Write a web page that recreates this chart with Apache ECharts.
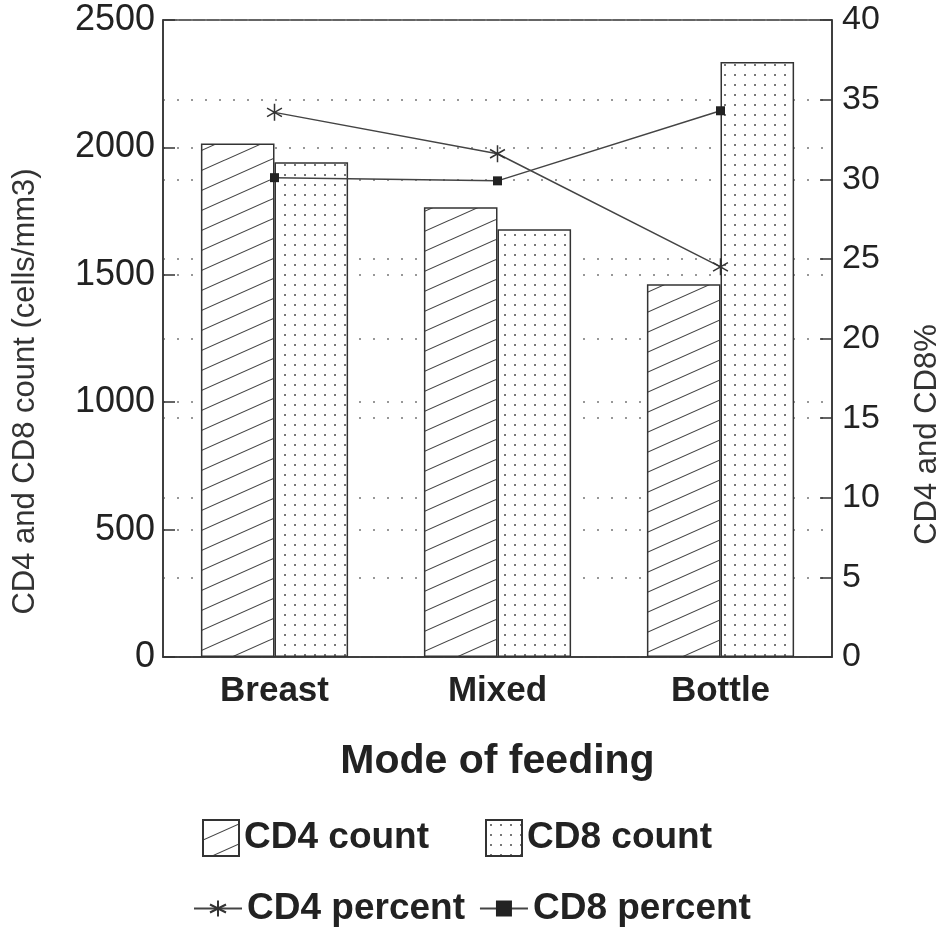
<!DOCTYPE html>
<html>
<head>
<meta charset="utf-8">
<script src="https://cdn.jsdelivr.net/npm/echarts@6/dist/echarts.min.js"></script>
<style>
  html, body { margin: 0; padding: 0; background: #fff; overflow: hidden; }
  #chart { width: 941px; height: 929px; }
</style>
</head>
<body>
<div id="chart"></div>
<script>
const categories = ["Breast", "Mixed", "Bottle"];
const cd4Count = [2015, 1765, 1463];
const cd8Count = [1942, 1679, 2335];
const cd4Percent = [34.2, 31.6, 24.5];
const cd8Percent = [30.1, 29.9, 34.3];

// hatch fill for CD4 count bars
function hatchPattern() {
  const c = document.createElement("canvas");
  c.width = 45;
  c.height = 20;
  const ctx = c.getContext("2d");
  ctx.fillStyle = "#fff";
  ctx.fillRect(0, 0, 45, 20);
  ctx.strokeStyle = "#444";
  ctx.lineWidth = 1.1;
  ctx.beginPath();
  ctx.moveTo(-45, 40); ctx.lineTo(90, -20);
  ctx.moveTo(-45, 20); ctx.lineTo(90, -40);
  ctx.moveTo(-45, 60); ctx.lineTo(90, 0);
  ctx.stroke();
  return c;
}

// dot fill for CD8 count bars
function dotPattern() {
  const c = document.createElement("canvas");
  c.width = 10;
  c.height = 10;
  const ctx = c.getContext("2d");
  ctx.fillStyle = "#fff";
  ctx.fillRect(0, 0, 10, 10);
  ctx.fillStyle = "#777";
  ctx.fillRect(4, 4, 2, 2);
  return c;
}

const asterisk = "path://M8 0 L8 16 M1 4 L15 12 M1 12 L15 4";
const fontFamily = "'Liberation Sans', Arial, Helvetica, sans-serif";
const dotted = { type: [2, 12], color: "#777", width: 1.5 };

let myChart = echarts.init(document.getElementById("chart"));
myChart.setOption({
  animation: false,
  backgroundColor: "#fff",
  textStyle: { fontFamily: fontFamily, color: "#222" },
  grid: {
    left: 163,
    right: 109,
    top: 20,
    bottom: 272,
    outerBoundsMode: "none",
    show: true,
    borderColor: "#333",
    borderWidth: 1.5,
  },
  legend: [
    {
      left: 197,
      top: 814,
      itemWidth: 36,
      itemHeight: 36,
      itemGap: 56,
      icon: "rect",
      textStyle: { fontSize: 37, fontWeight: "bold", color: "#222" },
      data: ["CD4 count", "CD8 count"],
    },
    {
      left: 188,
      top: 885,
      itemWidth: 48,
      itemHeight: 20,
      itemGap: 14,
      textStyle: { fontSize: 37, fontWeight: "bold", color: "#222" },
      data: ["CD4 percent", "CD8 percent"],
    },
  ],
  xAxis: {
    type: "category",
    data: categories,
    name: "Mode of feeding",
    nameLocation: "middle",
    nameGap: 84,
    nameTextStyle: { fontSize: 41, fontWeight: "bold", color: "#222" },
    axisLine: { lineStyle: { color: "#333", width: 1.5 } },
    axisTick: { show: false },
    axisLabel: { fontSize: 35, fontWeight: "bold", color: "#222", margin: 17 },
  },
  yAxis: [
    {
      type: "value",
      min: 0,
      max: 2500,
      interval: 500,
      name: "CD4 and CD8 count (cells/mm3)",
      nameLocation: "middle",
      nameGap: 122,
      nameRotate: 90,
      nameTextStyle: { fontSize: 31, color: "#333", padding: [0, 106, 0, 0] },
      axisLine: { show: true, lineStyle: { color: "#333", width: 1.5 } },
      axisTick: { show: true, inside: true, length: 12, lineStyle: { color: "#333", width: 1.5 } },
      axisLabel: { fontSize: 36, color: "#222", margin: 8, formatter: (v) => String(v) },
      splitLine: { show: true, lineStyle: dotted },
    },
    {
      type: "value",
      min: 0,
      max: 40,
      interval: 5,
      position: "right",
      name: "CD4 and CD8%",
      nameLocation: "middle",
      nameGap: 80,
      nameRotate: 90,
      nameTextStyle: { fontSize: 31, color: "#333", padding: [0, 192, 0, 0] },
      axisLine: { show: true, lineStyle: { color: "#333", width: 1.5 } },
      axisTick: { show: true, inside: true, length: 12, lineStyle: { color: "#333", width: 1.5 } },
      axisLabel: { fontSize: 34, color: "#222", margin: 10 },
      splitLine: { show: true, lineStyle: dotted },
    },
  ],
  series: [
    {
      name: "CD4 count",
      type: "bar",
      data: cd4Count,
      barGap: "0%",
      barCategoryGap: "34%",
      itemStyle: {
        color: { image: hatchPattern(), repeat: "repeat" },
        borderColor: "#333",
        borderWidth: 1.5,
      },
    },
    {
      name: "CD8 count",
      type: "bar",
      data: cd8Count,
      itemStyle: {
        color: { image: dotPattern(), repeat: "repeat" },
        borderColor: "#333",
        borderWidth: 1.5,
      },
    },
    {
      name: "CD4 percent",
      type: "line",
      yAxisIndex: 1,
      data: cd4Percent,
      symbol: asterisk,
      symbolSize: 17,
      symbolKeepAspect: true,
      lineStyle: { color: "#444", width: 1.5 },
      itemStyle: { color: "#fff", borderColor: "#333", borderWidth: 1.5 },
      z: 5,
    },
    {
      name: "CD8 percent",
      type: "line",
      yAxisIndex: 1,
      data: cd8Percent,
      symbol: "rect",
      symbolSize: 9,
      lineStyle: { color: "#444", width: 1.5 },
      itemStyle: { color: "#222", borderColor: "#222", borderWidth: 0 },
      z: 5,
    },
  ],
});
</script>
</body>
</html>
